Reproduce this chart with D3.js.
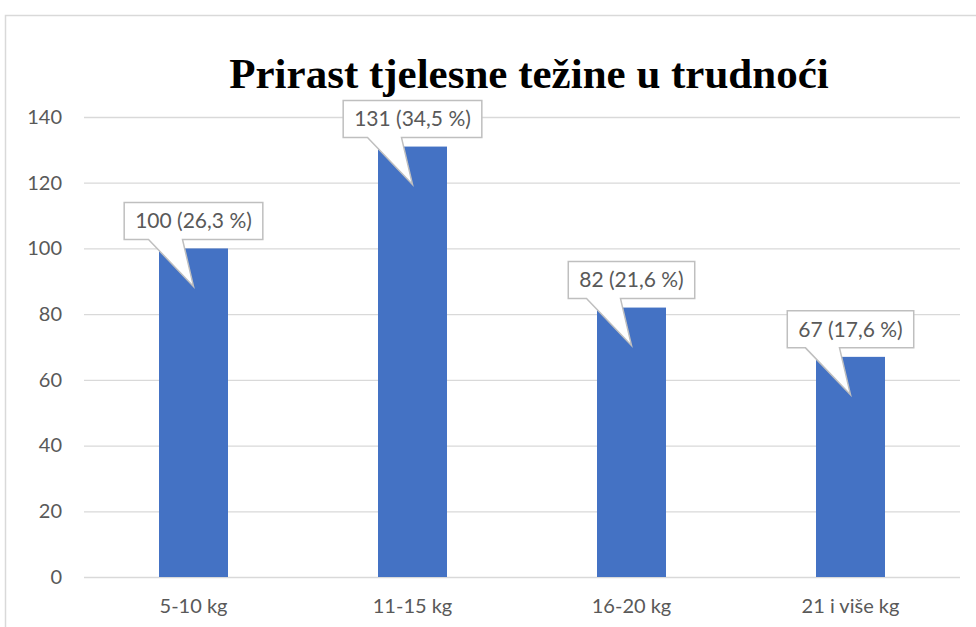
<!DOCTYPE html>
<html>
<head>
<meta charset="utf-8">
<script src="https://cdn.jsdelivr.net/npm/d3@7"></script>
<style>
  body { margin: 0; background: #fff; }
  svg { display: block; }
</style>
</head>
<body>
<div id="chart"></div>
<script>
const categories = ['5-10 kg', '11-15 kg', '16-20 kg', '21 i više kg'];
const counts = [100, 131, 82, 67];
const percents = ['26,3', '34,5', '21,6', '17,6'];
const yTicks = [0, 20, 40, 60, 80, 100, 120, 140];
const title = 'Prirast tjelesne težine u trudnoći';

const W = 976, H = 627;
const margin = { top: 117, right: 16, bottom: 50, left: 84 };
const width = W - margin.left - margin.right;
const height = H - margin.top - margin.bottom;
const labelFont = 'Lato, "Open Sans", sans-serif';

const svg = d3.select('#chart')
  .append('svg')
  .attr('width', W)
  .attr('height', H);

// chart frame (runs off the picture on the right and bottom)
svg.append('rect')
  .attr('x', 5.5).attr('y', 15.5)
  .attr('width', 1200).attr('height', 800)
  .attr('fill', '#fff')
  .attr('stroke', '#d9d9d9')
  .attr('stroke-width', 1.5);

svg.append('text')
  .attr('x', 529)
  .attr('y', 88)
  .attr('text-anchor', 'middle')
  .attr('font-family', '"Liberation Serif", "Times New Roman", serif')
  .attr('font-weight', 'bold')
  .attr('font-size', 43)
  .attr('fill', '#000')
  .text(title);

const g = svg.append('g')
  .attr('transform', `translate(${margin.left},${margin.top})`);

const x = d3.scaleBand()
  .domain(categories)
  .range([0, width])
  .paddingInner(0.685)
  .paddingOuter(0.3425);

const y = d3.scaleLinear()
  .domain([0, 140])
  .range([height, 0]);

g.append('g')
  .call(d3.axisLeft(y).tickValues(yTicks).tickSize(-width).tickPadding(22))
  .call(a => a.select('.domain').remove())
  .call(a => a.selectAll('.tick line').attr('stroke', '#d9d9d9').attr('stroke-width', 1.3))
  .call(a => a.selectAll('.tick text')
    .attr('fill', '#595959')
    .attr('font-family', labelFont)
    .attr('font-size', 20));

g.append('g')
  .attr('transform', `translate(0,${height})`)
  .call(d3.axisBottom(x).tickSize(0).tickPadding(22))
  .call(a => a.select('.domain').remove())
  .call(a => a.selectAll('.tick text')
    .attr('fill', '#595959')
    .attr('font-family', labelFont)
    .attr('font-size', 20));

const data = categories.map((c, i) => ({ cat: c, value: counts[i], pct: percents[i] }));

g.selectAll('.bar')
  .data(data)
  .enter().append('rect')
  .attr('class', 'bar')
  .attr('x', d => x(d.cat))
  .attr('y', d => y(d.value))
  .attr('width', x.bandwidth())
  .attr('height', d => height - y(d.value))
  .attr('fill', '#4472c4');

// callout labels with a wedge pointing into the bar
const callouts = g.selectAll('.callout')
  .data(data)
  .enter().append('g')
  .attr('class', 'callout');

callouts.each(function (d) {
  const sel = d3.select(this);
  const cx = x(d.cat) + x.bandwidth() / 2;
  const top = y(d.value);
  const path = sel.append('path');
  const txt = sel.append('text')
    .attr('x', cx)
    .attr('y', top - 9 - 18.5)
    .attr('dy', '0.35em')
    .attr('text-anchor', 'middle')
    .attr('font-family', labelFont)
    .attr('font-size', 21)
    .attr('fill', '#595959')
    .text(`${d.value} (${d.pct} %)`);
  const tw = txt.node().getComputedTextLength();
  const x0 = cx - tw / 2 - 11, x1 = cx + tw / 2 + 11;
  const y1 = top - 9, y0 = y1 - 37;
  path.attr('d', `M${x0},${y0}H${x1}V${y1}H${cx - 11}L${cx},${top + 38}L${cx - 45},${y1}H${x0}Z`)
    .attr('fill', '#fff')
    .attr('stroke', '#bfbfbf')
    .attr('stroke-width', 1.5)
    .attr('stroke-linejoin', 'miter');
});
</script>
</body>
</html>
